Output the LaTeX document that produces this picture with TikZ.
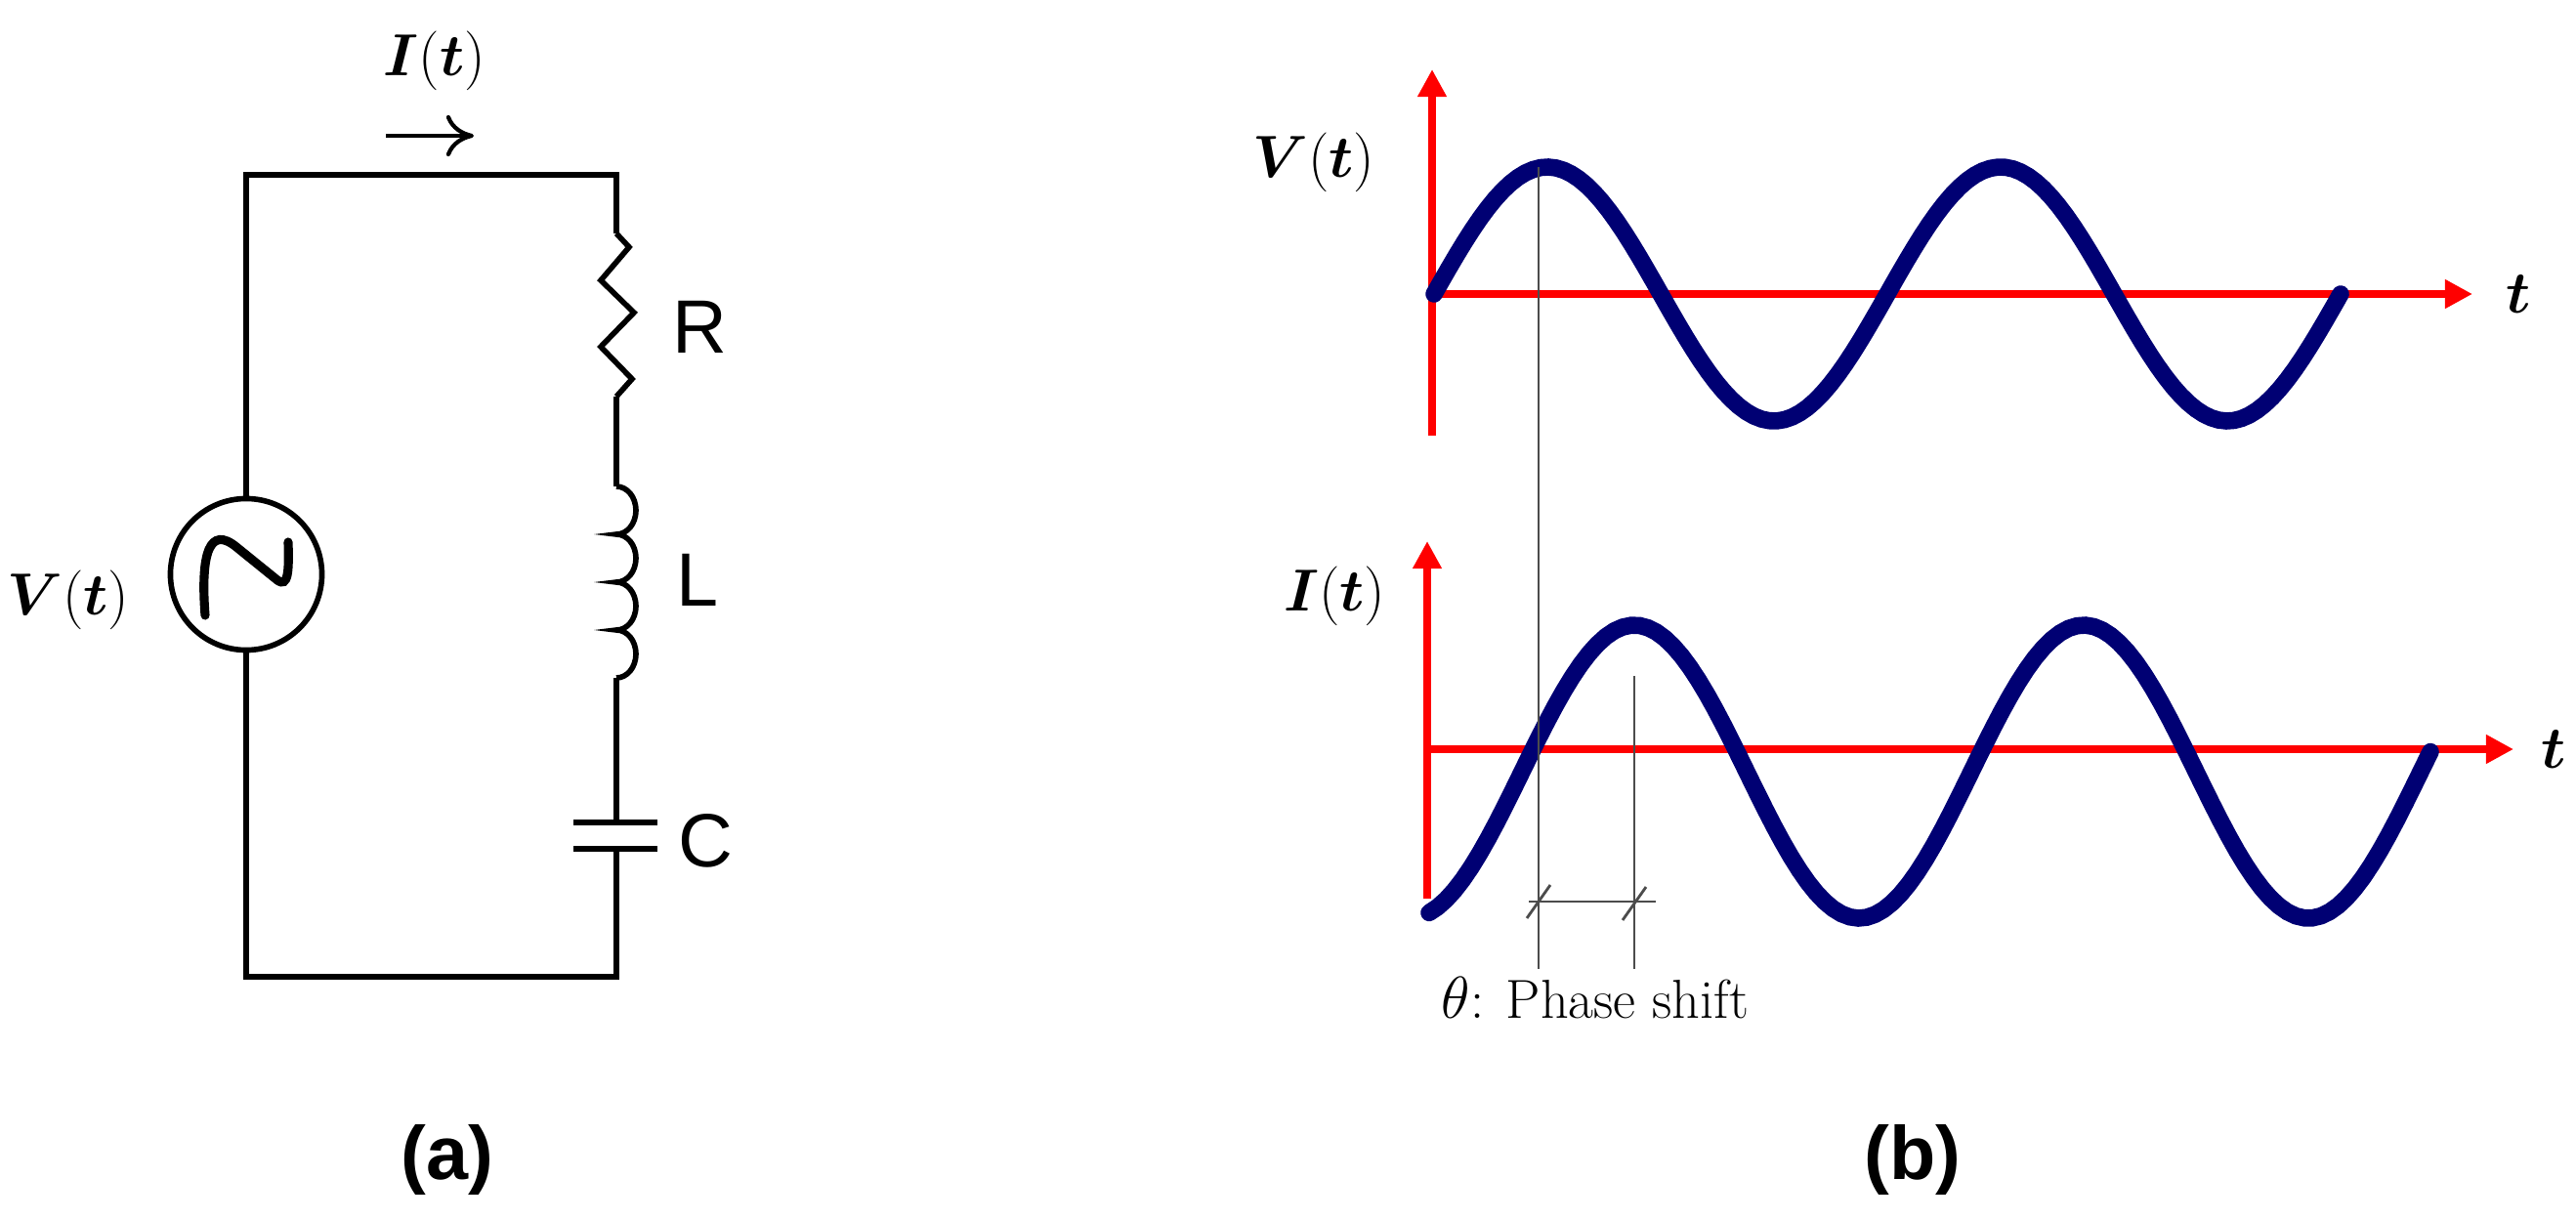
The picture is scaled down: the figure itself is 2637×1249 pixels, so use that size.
\documentclass[tikz,border=0pt]{standalone}
\usepackage{amsmath,bm}
\usepackage{fontspec}
\setsansfont{Liberation Sans}
\usetikzlibrary{arrows.meta,positioning}

\tikzset{
  wire/.style={line width=1.6pt, black},
  axis/.style={line width=2.4pt, red, -{Triangle[length=8pt,width=8pt]}},
  wave/.style={line width=5pt, blue!45!black, line cap=round},
  guide/.style={line width=0.8pt, black!70},
  lbl/.style={font=\sffamily\fontsize{22}{26}\selectfont},
  mlbl/.style={font=\fontsize{19}{22}\selectfont},
}

\begin{document}
\begin{tikzpicture}[x=0.01cm,y=-0.01cm]
\useasboundingbox (0,0) rectangle (2637,1249);

% circuit (a)
\coordinate (tl) at (252,179);
\coordinate (tr) at (631,179);
\coordinate (bl) at (252,1000);
\coordinate (br) at (631,1000);
\node[shape=circle, draw=black, line width=1.6pt, minimum size=1.55cm, inner sep=0pt] (src) at (252,588) {};
\coordinate (rtop) at (631,239);
\coordinate (rbot) at (631,406);
\coordinate (ltop) at (631,498);
\coordinate (lbot) at (631,694);
\coordinate (cup) at (631,842);
\coordinate (cdn) at (631,869);

\draw[wire] (src.north) -- (tl) -- (tr) -- (rtop);
\draw[wire] (rtop) -- (644,253) -- (615,287) -- (649,320) -- (615,355) -- (647,388) -- (rbot);
\draw[wire] (rbot) -- (ltop);
\draw[wire] (ltop) arc[start angle=-90,end angle=90,x radius=20,y radius=24.5]
  arc[start angle=-90,end angle=90,x radius=20,y radius=24.5]
  arc[start angle=-90,end angle=90,x radius=20,y radius=24.5]
  arc[start angle=-90,end angle=90,x radius=20,y radius=24.5];
\draw[wire] (lbot) -- (cup);
\draw[wire] (587,842) -- (673,842);
\draw[wire] (587,869) -- (673,869);
\draw[wire] (cdn) -- (br) -- (bl) -- (src.south);
\draw[line width=2.6pt, line cap=round] (210,630) .. controls (205,565) and (215,538) .. (242,560)
  -- (284,594) .. controls (295,602) and (296,585) .. (295,555);

\node[lbl] (R) at (716,335) {R};
\node[lbl] (L) at (714,594) {L};
\node[lbl] (C) at (722,861) {C};
\node[mlbl] (vsrc) at (70,614) {$\bm{V}(\bm{t})$};
\node[mlbl] (icur) at (445,62) {$\bm{I}(\bm{t})$};
\coordinate (ia) at (395,139);
\coordinate (ib) at (485,139);
\draw[line width=1.2pt, -{To[length=8pt,width=12pt]}] (ia) -- (ib);
\node[font=\sffamily\bfseries\fontsize{22}{26}\selectfont] (capa) at (458,1187) {(a)};

% graphs (b)
\coordinate (vo) at (1466,301);
\coordinate (vy0) at (1466,446);
\coordinate (vy1) at (1466,71);
\coordinate (vx1) at (2531,301);
\coordinate (io) at (1461,767);
\coordinate (iy0) at (1461,920);
\coordinate (iy1) at (1461,554);
\coordinate (ix1) at (2573,767);
\draw[axis] (vy0) -- (vy1);
\draw[axis] (vo) -- (vx1);
\draw[axis] (iy0) -- (iy1);
\draw[axis] (io) -- (ix1);
\node[mlbl, left=58 of vy1, yshift=-27, inner sep=0pt] (vlab) {$\bm{V}(\bm{t})$};
\node[mlbl, left=42 of iy1, yshift=-16, inner sep=0pt] (ilab) {$\bm{I}(\bm{t})$};
\node[mlbl, right=22 of vx1] (vt) {$\bm{t}$};
\node[mlbl, right=16 of ix1] (it) {$\bm{t}$};

\draw[wave] plot[domain=1468:2396, samples=120] (\x,{301-130*sin((\x-1468)/464*360)});
\draw[wave] plot[domain=1463:2488, samples=120] (\x,{790-150*sin((\x-1558)/460*360)});

\coordinate (pa) at (1575,171);
\coordinate (pb) at (1673,692);
\coordinate (pa2) at (1575,992);
\coordinate (pb2) at (1673,992);
\coordinate (ha) at (1565,923);
\coordinate (hb) at (1695,923);
\draw[guide] (pa) -- (pa2);
\draw[guide] (pb) -- (pb2);
\draw[guide] (ha) -- (hb);
\draw[guide] (1563,940) -- (1587,906);
\draw[guide] (1661,942) -- (1685,908);
\node[font=\fontsize{16}{19}\selectfont] (phase) at (1633,1022) {$\theta$: Phase shift};
\node[font=\sffamily\bfseries\fontsize{22}{26}\selectfont] (capb) at (1958,1187) {(b)};
\end{tikzpicture}
\end{document}
